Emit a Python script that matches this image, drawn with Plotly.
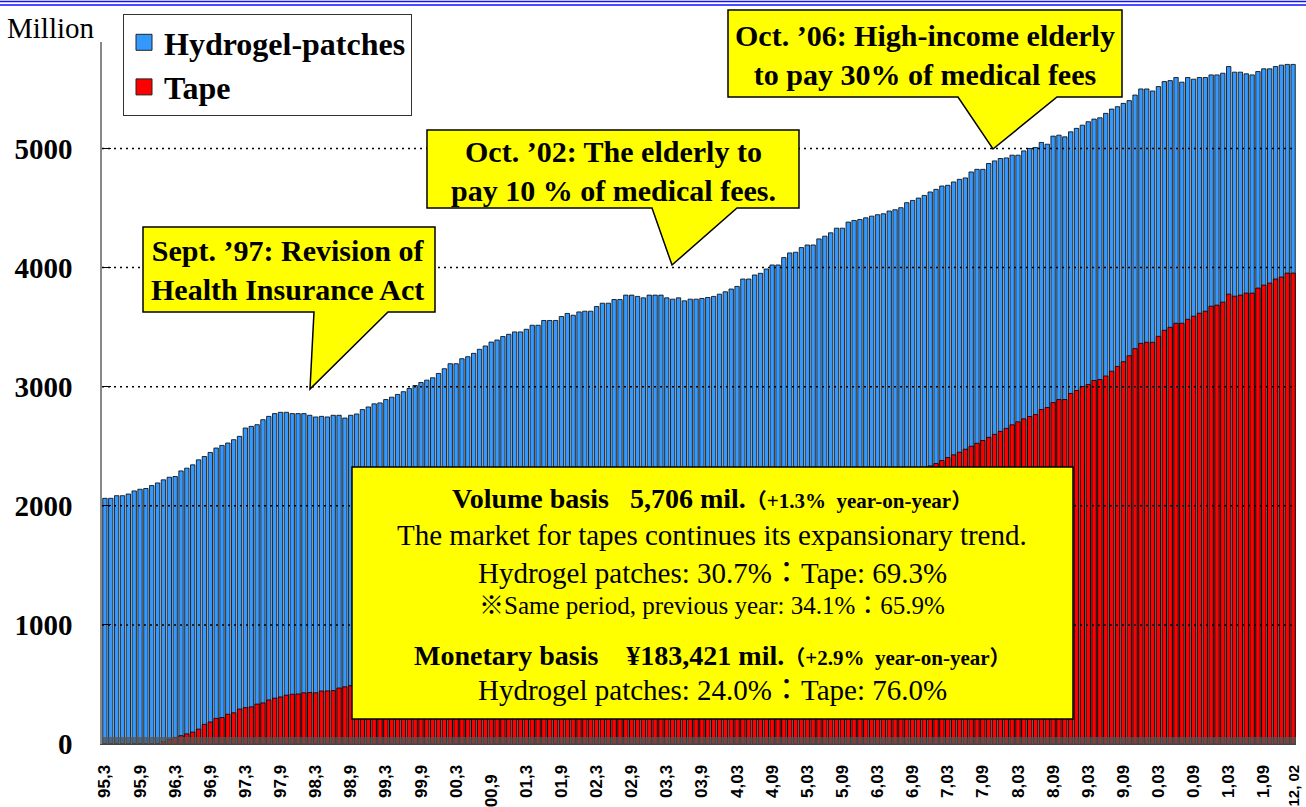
import plotly.graph_objects as go
import pandas as pd

# ---------------- data ----------------
months = [p.strftime("%Y-%m") for p in pd.period_range("1995-03", "2012-02", freq="M")]

total_volume = (
    [2063, 2063, 2085, 2085, 2099, 2125, 2139, 2145, 2170, 2192]                       # 1995 Mar-Dec
    + [2218, 2240, 2246, 2293, 2316, 2344, 2386, 2414, 2448, 2485, 2507, 2527]         # 1996
    + [2555, 2583, 2653, 2667, 2681, 2723, 2751, 2774, 2785, 2785, 2774, 2774]         # 1997
    + [2774, 2760, 2746, 2751, 2746, 2760, 2760, 2737, 2760, 2771, 2808, 2830]         # 1998
    + [2856, 2864, 2892, 2912, 2935, 2958, 2985, 3010, 3035, 3055, 3075, 3111]         # 1999
    + [3151, 3193, 3193, 3235, 3252, 3280, 3314, 3342, 3375, 3392, 3421, 3440]         # 2000
    + [3460, 3460, 3482, 3516, 3516, 3556, 3556, 3556, 3589, 3615, 3600, 3628]         # 2001
    + [3634, 3634, 3673, 3701, 3701, 3732, 3732, 3769, 3769, 3758, 3746, 3769]         # 2002
    + [3769, 3769, 3746, 3735, 3746, 3721, 3735, 3735, 3741, 3749, 3758, 3777]         # 2003
    + [3797, 3820, 3842, 3904, 3904, 3938, 3952, 3988, 4022, 4022, 4084, 4123]         # 2004
    + [4129, 4168, 4190, 4190, 4241, 4264, 4292, 4331, 4331, 4382, 4396, 4404]         # 2005
    + [4418, 4432, 4444, 4452, 4475, 4486, 4503, 4545, 4564, 4584, 4606, 4635]         # 2006
    + [4657, 4685, 4691, 4719, 4741, 4753, 4803, 4825, 4825, 4874, 4896, 4916]         # 2007
    + [4921, 4944, 4944, 4980, 5000, 5008, 5051, 5036, 5104, 5112, 5098, 5140]         # 2008
    + [5169, 5196, 5225, 5247, 5258, 5295, 5331, 5351, 5379, 5402, 5449, 5500]         # 2009
    + [5500, 5483, 5520, 5562, 5570, 5596, 5557, 5596, 5582, 5596, 5596, 5618]         # 2010
    + [5618, 5632, 5688, 5641, 5641, 5627, 5618, 5646, 5669, 5669, 5688, 5700]         # 2011
    + [5706, 5706]                                                                     # 2012 Jan-Feb
)

tape_volume = (
    [0, 0, 0, 0, 0, 0, 0, 0, 0, 5]
    + [20, 40, 55, 70, 85, 100, 125, 165, 185, 215, 222, 250]
    + [262, 293, 305, 312, 335, 345, 370, 385, 395, 410, 418, 420]
    + [430, 432, 430, 445, 446, 448, 470, 480, 490, 500, 508, 515]
    + [528, 540, 552, 565, 575, 590, 602, 615, 628, 640, 655, 668]
    + [680, 695, 708, 722, 735, 750, 765, 778, 792, 808, 822, 838]
    + [852, 868, 882, 898, 915, 930, 946, 962, 978, 995, 1012, 1028]
    + [1045, 1062, 1080, 1098, 1115, 1133, 1150, 1170, 1188, 1206, 1225, 1244]
    + [1262, 1282, 1300, 1320, 1340, 1358, 1378, 1400, 1422, 1446, 1470, 1492]
    + [1516, 1540, 1562, 1586, 1610, 1632, 1656, 1680, 1702, 1726, 1750, 1772]
    + [1796, 1820, 1842, 1866, 1890, 1912, 1936, 1960, 1982, 2006, 2030, 2052]
    + [2076, 2100, 2122, 2146, 2170, 2192, 2216, 2240, 2262, 2286, 2310, 2335]
    + [2355, 2380, 2405, 2428, 2450, 2475, 2500, 2525, 2548, 2575, 2600, 2625]
    + [2650, 2680, 2705, 2730, 2750, 2766, 2808, 2825, 2867, 2892, 2892, 2943]
    + [2968, 3002, 3019, 3052, 3060, 3090, 3130, 3170, 3210, 3260, 3320, 3364]
    + [3373, 3373, 3423, 3474, 3499, 3533, 3533, 3566, 3592, 3617, 3634, 3676]
    + [3685, 3710, 3777, 3760, 3769, 3786, 3786, 3828, 3853, 3870, 3904, 3921]
    + [3954, 3954]
)

tick_labels = ["95,3", "95,9", "96,3", "96,9", "97,3", "97,9", "98,3", "98,9",
               "99,3", "99,9", "00,3", "00,9\u00a0\u00a0", "01,3", "01,9", "02,3", "02,9",
               "03,3", "03,9", "4,03", "4,09", "5,03", "5,09", "6,03", "6,09",
               "7,03", "7,09", "8,03", "8,09", "9,03", "9,09", "0,03", "0,09",
               "1,03", "1,09", "<span style='font-size:15px'>12, 02</span>"]
tick_months = months[::6] + [months[-1]]

y_ticks = [0, 1000, 2000, 3000, 4000, 5000]

assert len(total_volume) == len(months) == len(tape_volume)

# ---------------- geometry helpers (pixel -> paper) ----------------
W, H = 1306, 807
L, R, T, B = 102, 10, 42, 63
PW, PH = W - L - R, H - T - B


def px(x):
    return (x - L) / PW


def py(y):
    return (H - B - y) / PH


def path(points):
    return "M " + " L ".join(f"{px(a):.5f},{py(b):.5f}" for a, b in points) + " Z"


SERIF = "Liberation Serif, Times New Roman, Noto Sans CJK JP, serif"
SANS = "Liberation Sans, Arial, sans-serif"
BLUE, RED = "#3399ff", "#ff0000"

fig = go.Figure()
fig.add_trace(go.Bar(x=months, y=total_volume, name="Hydrogel-patches", showlegend=False,
                     marker=dict(color=BLUE, line=dict(color="black", width=0.8))))
fig.add_trace(go.Bar(x=months, y=tape_volume, name="Tape", showlegend=False,
                     marker=dict(color=RED, line=dict(color="black", width=0.8))))
# legend entries with larger square keys
for nm, col in (("Hydrogel-patches", BLUE), ("Tape", RED)):
    fig.add_trace(go.Scatter(x=[None], y=[None], mode="markers", name=nm,
                             marker=dict(symbol="square", size=16, color=col,
                                         line=dict(color="#222222", width=1))))

shapes = []
# dotted gridlines drawn over the bars
for v in y_ticks[1:]:
    shapes.append(dict(type="line", xref="paper", yref="y", x0=0, x1=1, y0=v, y1=v,
                       line=dict(color="black", width=1.5, dash="2px,4px"), layer="above"))
# dark floor band
shapes.append(dict(type="rect", xref="paper", yref="paper", x0=0, x1=1, y0=0, y1=py(737),
                   fillcolor="#555555", opacity=0.75, line=dict(width=0), layer="above"))
# double blue line at top of page
for yy in (1.5, 5.0):
    shapes.append(dict(type="line", xref="paper", yref="paper", x0=px(0), x1=px(W),
                       y0=py(yy), y1=py(yy), line=dict(color="#1010ff", width=1.6)))

callout_style = dict(type="path", xref="paper", yref="paper", fillcolor="#ffff00",
                     line=dict(color="black", width=1.5), layer="above")
shapes.append(dict(path=path([(143, 227), (435, 227), (435, 312), (388, 312), (310, 389),
                              (314, 312), (143, 312)]), **callout_style))
shapes.append(dict(path=path([(427, 130), (799, 130), (799, 208), (737, 208), (672, 265),
                              (652, 208), (427, 208)]), **callout_style))
shapes.append(dict(path=path([(728, 10), (1122, 10), (1122, 97), (1057, 97), (993, 149),
                              (958, 97), (728, 97)]), **callout_style))
shapes.append(dict(path=path([(352, 467), (1073, 467), (1073, 719), (352, 719)]), **callout_style))

annotations = []


def note(x, y, text, size, bold=False):
    annotations.append(dict(xref="paper", yref="paper", x=px(x), y=py(y), text=text,
                            showarrow=False, xanchor="center", yanchor="middle",
                            font=dict(family=SERIF, size=size, color="black",
                                      weight="bold" if bold else "normal")))


note(288, 270, "Sept. ’97: Revision of<br>Health Insurance Act", 30, True)
note(613, 171, "Oct. ’02: The elderly to<br>pay 10 % of medical fees.", 30, True)
note(925, 55, "Oct. ’06: High-income elderly<br>to pay 30% of medical fees", 30, True)

nb = "\u00a0"
note(712, 498, f"Volume basis{nb}{nb}{nb}5,706 mil.<span style='font-size:21px'>（+1.3%{nb}{nb}year-on-year）</span>", 28, True)
note(712, 535, "The market for tapes continues its expansionary trend.", 29)
note(712, 573, "Hydrogel patches: 30.7%：Tape: 69.3%", 29)
note(712, 605, "※Same period, previous year: 34.1%：65.9%", 25)
note(712, 655, f"Monetary basis{nb}{nb}{nb}{nb}¥183,421 mil.<span style='font-size:21px'>（+2.9%{nb}{nb}year-on-year）</span>", 28, True)
note(712, 690, "Hydrogel patches: 24.0%：Tape: 76.0%", 29)

annotations.append(dict(xref="paper", yref="paper", x=px(5), y=py(28), text="Million",
                        showarrow=False, xanchor="left", yanchor="middle",
                        font=dict(family=SERIF, size=29, color="black")))

fig.update_layout(
    width=W, height=H,
    margin=dict(l=L, r=R, t=T, b=B, pad=0),
    paper_bgcolor="white", plot_bgcolor="white",
    barmode="overlay", bargap=0.25,
    showlegend=True,
    legend=dict(x=px(123), y=py(14), xanchor="left", yanchor="top",
                bgcolor="white", bordercolor="#333333", borderwidth=1,
                font=dict(family=SERIF, size=32, color="black", weight="bold"),
                traceorder="normal", tracegroupgap=0, itemwidth=30),
    xaxis=dict(type="category", range=[-0.5, len(months) - 0.5], automargin=False,
               tickmode="array", tickvals=tick_months, ticktext=tick_labels,
               tickangle=-90, ticks="", showgrid=False, zeroline=False,
               showline=True, linecolor="#444444", linewidth=1,
               tickfont=dict(family=SANS, size=17, color="black", weight="bold"),
               ticklabelstandoff=13),
    yaxis=dict(range=[0, (H - B - T) / 0.1191], automargin=False,
               tickmode="array", tickvals=y_ticks,
               ticktext=[str(v) for v in y_ticks], showgrid=False, zeroline=False,
               showline=True, linecolor="#888888", linewidth=1.5,
               ticks="inside", ticklen=9, tickcolor="black",
               tickfont=dict(family=SERIF, size=29, color="black", weight="bold"),
               ticklabelstandoff=22),
    shapes=shapes,
    annotations=annotations,
)

fig.write_html("out.html", config={"displayModeBar": False},
               post_script="document.body.style.margin='0px';document.body.style.overflow='hidden';")
